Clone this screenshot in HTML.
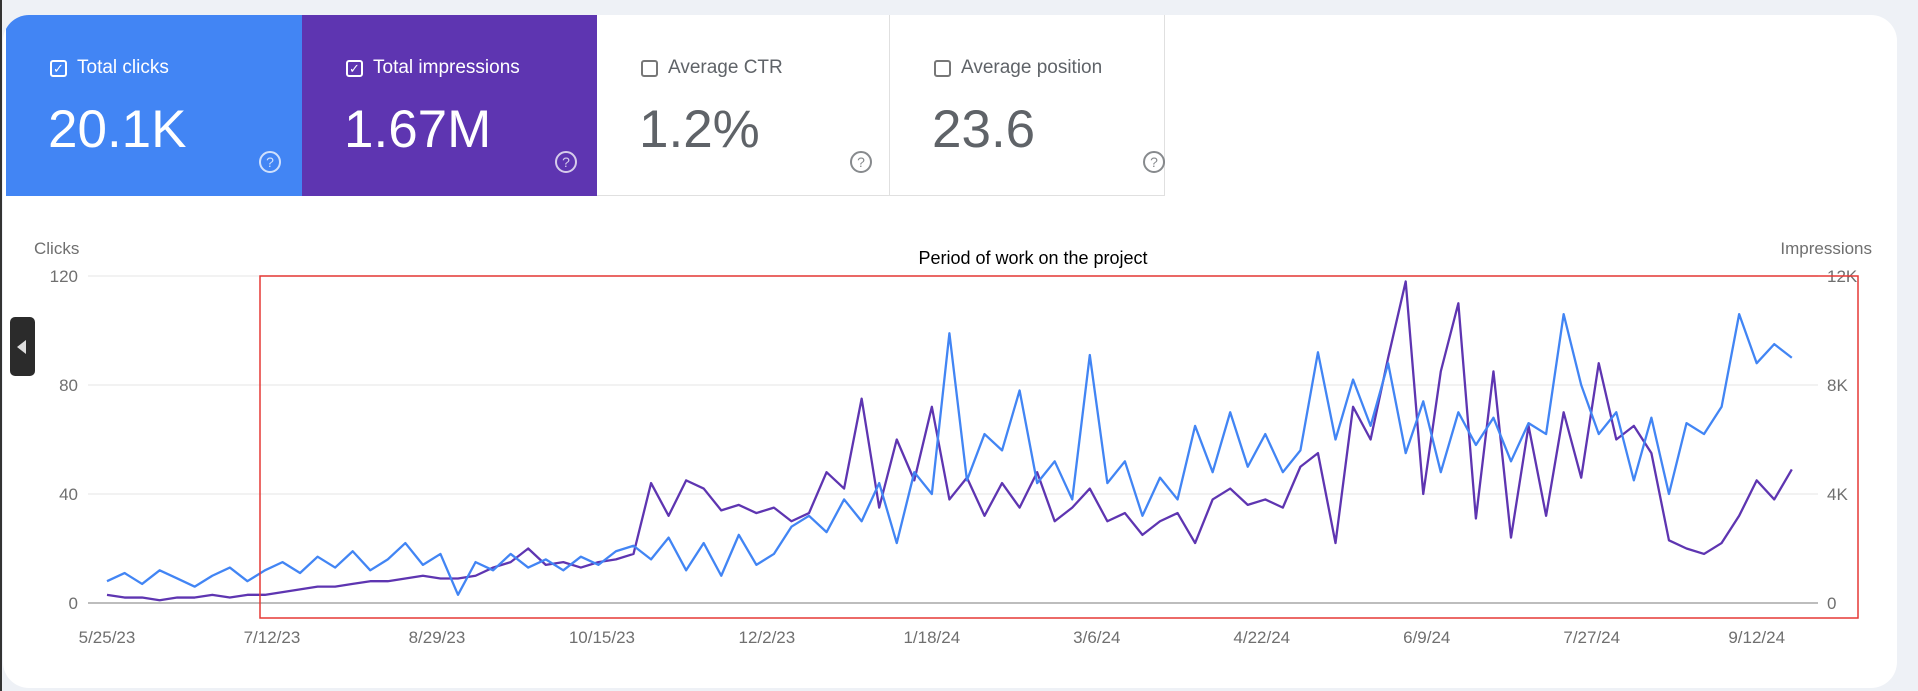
<!DOCTYPE html>
<html><head><meta charset="utf-8">
<style>
body{margin:0;width:1918px;height:691px;background:#eef1f6;overflow:hidden;font-family:"Liberation Sans",sans-serif;position:relative}
#card{position:absolute;left:3px;top:15px;width:1894px;height:673px;background:#fff;border-radius:26px;overflow:hidden}
.tile{position:absolute;top:0;height:181px;box-sizing:border-box}
.lbl{position:absolute;left:44px;top:42px;font-size:19px;display:flex;align-items:center}
.cb{width:17px;height:17px;border:2px solid currentColor;border-radius:3px;margin-right:10px;box-sizing:border-box;display:inline-flex;align-items:center;justify-content:center;font-size:13px;line-height:1}
.val{position:absolute;left:42px;top:84px;font-size:53px}
.help{position:absolute;left:253px;top:136px;width:22px;height:22px;border:2px solid currentColor;border-radius:50%;box-sizing:border-box;font-size:14px;text-align:center;line-height:19px;opacity:.75}
</style></head><body>
<div id="card">
 <div class="tile" style="left:3px;width:296px;background:#4285f4;color:#fff">
  <div class="lbl"><span class="cb">✓</span><span>Total clicks</span></div>
  <div class="val">20.1K</div><div class="help">?</div></div>
 <div class="tile" style="left:299px;width:295px;background:#5e35b1;color:#fff">
  <div class="lbl"><span class="cb">✓</span><span>Total impressions</span></div>
  <div class="val">1.67M</div><div class="help">?</div></div>
 <div class="tile" style="left:594px;width:293px;color:#5f6368;border-right:1px solid #e0e0e0;border-bottom:1px solid #e0e0e0">
  <div class="lbl"><span class="cb" style="color:#777"></span><span>Average CTR</span></div>
  <div class="val">1.2%</div><div class="help">?</div></div>
 <div class="tile" style="left:887px;width:275px;color:#5f6368;border-right:1px solid #e0e0e0;border-bottom:1px solid #e0e0e0">
  <div class="lbl"><span class="cb" style="color:#777"></span><span>Average position</span></div>
  <div class="val">23.6</div><div class="help" style="left:253px">?</div></div>
</div>
<div style="position:absolute;left:0;top:0;width:2px;height:691px;background:#333"></div>
<svg id="chart" width="1918" height="691" style="position:absolute;left:0;top:0"></svg>
<div style="position:absolute;left:10px;top:317px;width:25px;height:59px;background:#2b2b2b;border-radius:5px"><div style="position:absolute;left:7px;top:23px;width:0;height:0;border-top:7px solid transparent;border-bottom:7px solid transparent;border-right:9px solid #ddd"></div></div>
<script>
const xLabels=["5/25/23","7/12/23","8/29/23","10/15/23","12/2/23","1/18/24","3/6/24","4/22/24","6/9/24","7/27/24","9/12/24"];
const clickTicks=[0,40,80,120];
const imprTicks=["0","4K","8K","12K"];
const stepDays=5;
const clicks=[8,11,7,12,9,6,10,13,8,12,
15,11,17,13,19,12,16,22,14,18,
3,15,12,18,13,16,12,17,14,19,
21,16,24,12,22,10,25,14,18,28,
32,26,38,30,44,22,48,40,
99,45,62,56,78,44,52,38,
91,44,52,32,46,38,65,48,
70,50,62,48,56,92,60,82,
65,88,55,74,48,70,58,68,
52,66,62,106,80,62,70,45,
68,40,66,62,72,106,88,95,90];
const impressionsK=[0.3,0.2,0.2,0.1,0.2,0.2,0.3,0.2,0.3,0.3,
0.4,0.5,0.6,0.6,0.7,0.8,0.8,0.9,1.0,0.9,
0.9,1.0,1.3,1.5,2.0,1.4,1.5,1.3,1.5,1.6,
1.8,4.4,3.2,4.5,4.2,3.4,3.6,3.3,3.5,3.0,
3.3,4.8,4.2,7.5,3.5,6.0,4.5,7.2,
3.8,4.6,3.2,4.4,3.5,4.8,3.0,3.5,
4.2,3.0,3.3,2.5,3.0,3.3,2.2,3.8,
4.2,3.6,3.8,3.5,5.0,5.5,2.2,7.2,
6.0,9.0,11.8,4.0,8.5,11.0,3.1,8.5,
2.4,6.5,3.2,7.0,4.6,8.8,6.0,6.5,
5.5,2.3,2.0,1.8,2.2,3.2,4.5,3.8,4.9];
const NS="http://www.w3.org/2000/svg";
const svg=document.getElementById('chart');
const x0=107,pxPerDay=3.51,yBase=603,yTop=276,labelEvery=47;
const xDay=d=>x0+d*pxPerDay;
const yClicks=v=>yBase-(v/120)*(yBase-yTop);
const yImpr=k=>yBase-(k/12)*(yBase-yTop);
function el(t,a,txt){const e=document.createElementNS(NS,t);for(const k in a)e.setAttribute(k,a[k]);if(txt!==undefined)e.textContent=txt;svg.appendChild(e);return e;}
clickTicks.forEach((v,i)=>{
 const y=yClicks(v);
 const g=el('line',{x1:88,x2:1818,y1:y,y2:y,stroke:v===0?'#bdbdbd':'#eeeeee','stroke-width':v===0?2:1.5});
 
 
 const l=el('text',{x:78,y:y+6,'text-anchor':'end','font-size':17,fill:'#6f6f6f'},String(v));
 
 
 const r=el('text',{x:1827,y:y+6,'font-size':17,fill:'#6f6f6f'},imprTicks[i]);
 
 
});
xLabels.forEach((s,i)=>{
 const t=el('text',{x:xDay(i*labelEvery),y:643,'text-anchor':'middle','font-size':17,fill:'#6f6f6f'},s);
 
 
});
let a=el('text',{x:34,y:254,'font-size':17,fill:'#6f6f6f'},'Clicks');


a=el('text',{x:1872,y:254,'text-anchor':'end','font-size':17,fill:'#6f6f6f'},'Impressions');


const ip=el('polyline',{points:impressionsK.map((v,i)=>xDay(i*stepDays)+','+yImpr(v)).join(' '),fill:'none',stroke:'#5e35b1','stroke-width':2.3,'stroke-linejoin':'round'});


const cp=el('polyline',{points:clicks.map((v,i)=>xDay(i*stepDays)+','+yClicks(v)).join(' '),fill:'none',stroke:'#4285f4','stroke-width':2.3,'stroke-linejoin':'round'});


const rb=el('rect',{x:260,y:276,width:1598,height:342,fill:'none',stroke:'#e53935','stroke-width':1.5});


const tt=el('text',{x:1033,y:264,'text-anchor':'middle','font-size':18,fill:'#000'},'Period of work on the project');


</script>
</body></html>
